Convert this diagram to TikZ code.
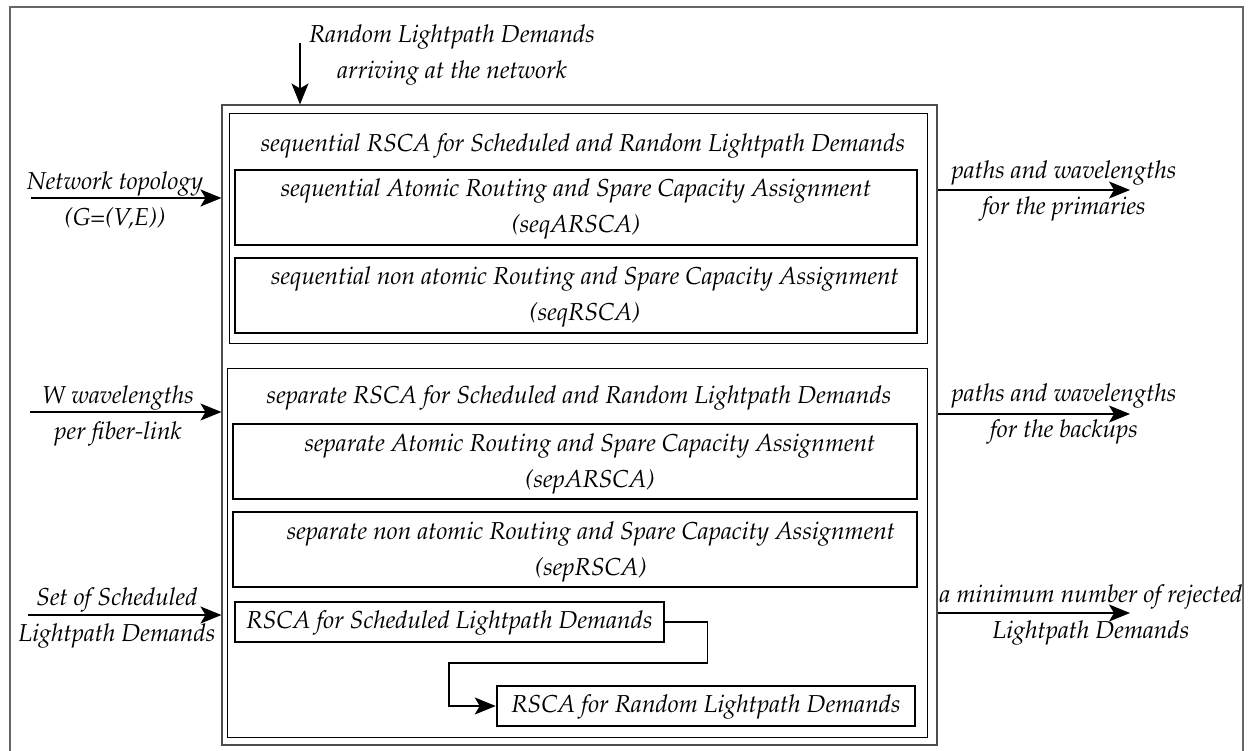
\documentclass[tikz,border=0pt]{standalone}
\usepackage[T1]{fontenc}
\usepackage{mathpazo}
\usetikzlibrary{arrows.meta}
\begin{document}
\begin{tikzpicture}[x=1pt,y=-1pt,
  txt/.style={font=\fontsize{24.5}{36}\selectfont\itshape, inner sep=0pt, align=center},
  frame/.style={draw=black!60, line width=1.3pt, inner sep=0pt},
  bigbox/.style={draw=black!70, line width=1.1pt, inner sep=0pt},
  group/.style={draw=black, line width=1pt, inner sep=0pt},
  algbox/.style={draw=black, line width=2.5pt, inner sep=0pt},
  conn/.style={draw=black, line width=1.3pt, -{Stealth[length=21pt,width=17pt,inset=5pt]}},
  ]
\useasboundingbox (0,0) rectangle (1250,751);
\fill[white] (0,0) rectangle (1250,751);
% frames
\node[frame, minimum width=1233pt, minimum height=748pt] (outer) at (626.5,381) {};
\node[bigbox, minimum width=715pt, minimum height=640pt] (big) at (579.5,425) {};
\node[group, minimum width=698pt, minimum height=229pt] (seqgrp) at (578.5,228.5) {};
\node[group, minimum width=700pt, minimum height=369pt] (sepgrp) at (577,553) {};
% algorithm boxes
\node[algbox, minimum width=682pt, minimum height=75pt] (seqA) at (576,207.5) {};
\node[algbox, minimum width=682pt, minimum height=75pt] (seqR) at (576,295.5) {};
\node[algbox, minimum width=684pt, minimum height=75pt] (sepA) at (575,461.5) {};
\node[algbox, minimum width=684pt, minimum height=75pt] (sepR) at (575,549.5) {};
\node[algbox, minimum width=429pt, minimum height=40pt] (sched) at (449.5,622) {};
\node[algbox, minimum width=418pt, minimum height=40pt] (rand) at (706,706) {};
% texts in boxes
\node[txt] (seqtitle) at (583,146) {sequential RSCA for Scheduled and Random Lightpath Demands};
\node[txt] (seqAt) at (576,209) {sequential Atomic Routing and Spare Capacity Assignment\\(seqARSCA)};
\node[txt] (seqRt) at (585,297.5) {sequential non atomic Routing and Spare Capacity Assignment\\(seqRSCA)};
\node[txt] (septitle) at (579,398) {separate RSCA for Scheduled and Random Lightpath Demands};
\node[txt] (sepAt) at (590,464) {separate Atomic Routing and Spare Capacity Assignment\\(sepARSCA)};
\node[txt] (sepRt) at (591,552.5) {separate non atomic Routing and Spare Capacity Assignment\\(sepRSCA)};
\node[txt] (schedt) at (449.5,623) {RSCA for Scheduled Lightpath Demands};
\node[txt] (randt) at (706,707) {RSCA for Random Lightpath Demands};
% connector between the two RSCA boxes
\draw[conn] (sched.east) -- ++(42,0) |- (449,663) |- (rand.west);
% top input
\node[txt] (randin) at (452,55) {Random Lightpath Demands\\arriving at the network};
\coordinate (randsrc) at (300,43);
\draw[conn] (randsrc) -- (randsrc |- big.north);
% left inputs
\node[txt] (topo) at (115,200) {Network topology\\(G=(V,E))};
\coordinate (toposrc) at (31,198);
\draw[conn] (toposrc) -- (toposrc -| big.west);
\node[txt] (wl) at (118,416) {W wavelengths\\per fiber-link};
\coordinate (wlsrc) at (30,412);
\draw[conn] (wlsrc) -- (wlsrc -| big.west);
\node[txt] (sld) at (117,618) {Set of Scheduled\\Lightpath Demands};
\coordinate (sldsrc) at (28,615);
\draw[conn] (sldsrc) -- (sldsrc -| big.west);
% right outputs
\coordinate (prim) at (1130,190);
\draw[conn] (prim -| big.east) -- (prim);
\node[txt] (primt) at (1064,191) {paths and wavelengths\\for the primaries};
\coordinate (back) at (1130,414);
\draw[conn] (back -| big.east) -- (back);
\node[txt] (backt) at (1064,414) {paths and wavelengths\\for the backups};
\coordinate (rej) at (1130,613);
\draw[conn] (rej -| big.east) -- (rej);
\begin{scope}
\clip (938,560) rectangle (1241,660);
\node[txt] (rejt) at (1091,615) {a minimum number of rejected\\Lightpath Demands};
\end{scope}
\end{tikzpicture}
\end{document}
